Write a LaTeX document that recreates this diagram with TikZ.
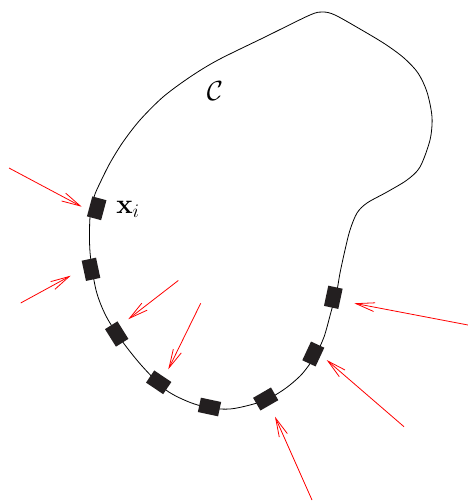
\documentclass[tikz,border=0pt]{standalone}
\usetikzlibrary{arrows.meta}
\definecolor{blockfill}{RGB}{35,31,32}
\begin{document}
\begin{tikzpicture}[x=0.75pt,y=-0.75pt,
  curveline/.style={line width=0.6pt,black},
  sensor/.style={rectangle,fill=blockfill,inner sep=0pt,minimum width=15.5pt,minimum height=11pt},
  force/.style={red,line width=0.6pt,-{Straight Barb[length=14pt,width=6.6pt]}},
  lbl/.style={inner sep=0pt,anchor=base west,font=\fontsize{21}{25}\selectfont}]
\path[use as bounding box] (0,0) rectangle (468,504);
% boundary curve C
\draw[curveline] plot[smooth cycle,tension=0.5] coordinates {
 (323,12) (335,15) (360,29) (385,44) (404,58) (418,73) (427,92) (432,117) (430,140)
 (420,167) (407,180) (387,192) (367,203) (357,213) (350,230) (345,250) (340,273)
 (337,290) (331,312) (324,337) (315,356) (302,374) (286,388) (268,399) (250,405)
 (230,409) (210,408) (189,402) (166,390) (142,366) (122,341) (106,316) (96,290)
 (90,252) (90,217) (94,197) (100,183) (110,163) (123,142) (140,120) (163,97)
 (190,77) (218,60) (265,37) (310,15)};
% sensors
\node[sensor,rotate=75]  (s1) at (96.7,208.3) {};
\node[sensor,rotate=102] (s2) at (91,269.3) {};
\node[sensor,rotate=122] (s3) at (116.7,334) {};
\node[sensor,rotate=-34] (s4) at (158.7,382.3) {};
\node[sensor,rotate=-12] (s5) at (209.5,407) {};
\node[sensor,rotate=30]  (s6) at (265.7,399) {};
\node[sensor,rotate=65]  (s7) at (313.3,354) {};
\node[sensor,rotate=78]  (s8) at (333.3,297.3) {};
% labels
\node[lbl] (xi) at (116,213) {$\mathbf{x}_i$};
\node[lbl] (C) at (206.5,100) {$\mathcal{C}$};
% forces
\coordinate (a1s) at (9,168);    \coordinate (a1t) at (81.7,206.7);
\coordinate (a2s) at (20.7,303); \coordinate (a2t) at (70.7,275.7);
\coordinate (a3s) at (178.3,280.5); \coordinate (a3t) at (128.3,319.2);
\coordinate (a4s) at (200.7,303.3); \coordinate (a4t) at (168.3,369.3);
\coordinate (a5s) at (312,500);  \coordinate (a5t) at (275,416.7);
\coordinate (a6s) at (404,426.7); \coordinate (a6t) at (326.7,360);
\coordinate (a7s) at (468,325);  \coordinate (a7t) at (354.3,303.3);
\draw[force] (a1s) -- (a1t);
\draw[force] (a2s) -- (a2t);
\draw[force] (a3s) -- (a3t);
\draw[force] (a4s) -- (a4t);
\draw[force] (a5s) -- (a5t);
\draw[force] (a6s) -- (a6t);
\draw[force] (a7s) -- (a7t);
\end{tikzpicture}
\end{document}
